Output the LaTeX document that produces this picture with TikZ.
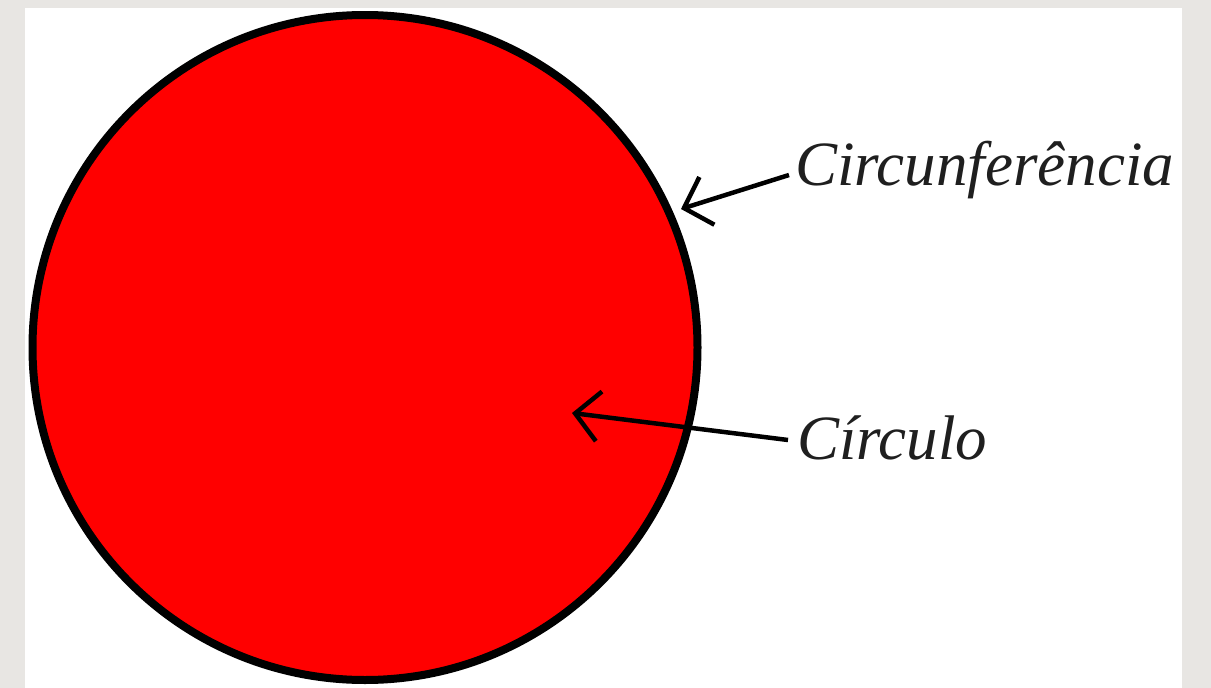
\documentclass[tikz,border=0pt]{standalone}
\usepackage{fontspec}
\setmainfont{Liberation Serif}
\usetikzlibrary{arrows.meta}
\definecolor{PaperGray}{HTML}{E8E6E3}
\definecolor{DiscRed}{HTML}{FF0000}
\begin{document}
\begin{tikzpicture}[x=1pt,y=-1pt,
  tag/.style={inner sep=0pt,anchor=base west,font=\fontsize{63}{70}\selectfont\itshape,text=black!88},
  pointer/.style={line width=4.5pt,-{Straight Barb[length=24pt,width=50pt]}}]
  \useasboundingbox (0,0) rectangle (1211,688);
  \fill[PaperGray] (0,0) rectangle (1211,688);
  \fill[white] (25,8) rectangle (1182,688);
  \node[circle,draw,line width=8pt,fill=DiscRed,minimum size=665pt,inner sep=0pt] (disc) at (365,347.5) {};
  \node[tag] (outer) at (795,185) {Circunferência};
  \node[tag] (inner) at (797,459) {Círculo};
  \coordinate (edge) at (681,209);
  \coordinate (area) at (572,413);
  \draw[pointer] ([shift={(-6,-10)}]outer.base west) -- (edge);
  \draw[pointer] ([shift={(-9,-19)}]inner.base west) -- (area);
\end{tikzpicture}
\end{document}
